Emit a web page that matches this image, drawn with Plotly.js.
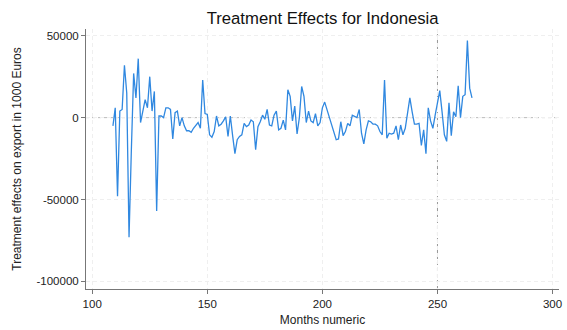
<!DOCTYPE html>
<html>
<head>
<meta charset="utf-8">
<script src="https://cdn.plot.ly/plotly-3.0.1.min.js"></script>
<style>html,body{margin:0;padding:0;background:#fff;}#chart{width:567px;height:330px;}</style>
</head>
<body>
<div id="chart"></div>
<script>
const startMonth = 109;
const effects = [
  -5000, 6000, -48000, 4000, 5000, 32000, 15000, -73000, -20000, 27000,
  12000, 36000, -3000, 5000, 11000, 6000, 25000, 4000, 16000, -57000,
  1000, 1000, 0, 6000, 6000, 5000, -13000, 3000, 4000, -5000,
  0, -5000, -8000, -8000, -9000, -6500, -4500, -3000, -6500, 23000,
  2500, 2000, -10500, -12000, -8500, 1000, -5000, -4000, -2000, 500,
  -11500, 1000, -11000, -22000, -13500, -11500, -10500, -3500, -5500, -4500,
  -1500, -2500, -19500, -5500, -2500, 1500, -1000, 5000, -4500, -5000,
  1500, 4000, -7500, -6500, -1500, -7500, 17000, 13000, -2000, 7000,
  -10000, 0, 19000, 13000, -3000, 4000, -2000, -3000, 2500, -5000,
  -3000, 6000, 9500, 5000, 0, -4500, -8000, -13500, -13000, -2500,
  -11000, -8500, -3500, -5000, 1500, 500, 0, 5000, -9500, -16000,
  -7500, -2000, -2500, -4000, -4000, -5000, -8500, -10500, 23000, -12500,
  -9500, -10000, -9500, -5000, -13500, -4500, -10500, -6500, 2500, 12000,
  3500, -4000, -4000, -3500, -17000, -7500, -22000, 6000, -2000, -6500,
  1500, 9000, 16500, 3500, -10500, -14500, 9000, -11000, 3500, 500,
  19500, 0, 13000, 14000, 47000, 18000, 12000
];
const months = effects.map((_, i) => startMonth + i);
const xTicks = [100, 150, 200, 250, 300];
const yTicks = [-100000, -50000, 0, 50000];
const refX = 250;
const refY = 0;

const font = "Liberation Sans, Arial, Helvetica, sans-serif";
const trace = {
  x: months, y: effects, type: 'scatter', mode: 'lines',
  line: {color: '#3088e0', width: 1.3},
  hoverinfo: 'skip'
};
const layout = {
  width: 567, height: 330,
  margin: {l: 86, r: 8, t: 29, b: 41},
  paper_bgcolor: '#fff', plot_bgcolor: '#fff',
  showlegend: false,
  font: {family: font, color: '#222', size: 11},
  title: {text: 'Treatment Effects for Indonesia', font: {family: font, size: 16.7, color: '#111'},
          x: 0.569, xanchor: 'center', y: 0.945, yanchor: 'middle'},
  xaxis: {
    range: [97.3, 302.8], tickvals: xTicks, ticktext: xTicks.map(String),
    showline: true, linecolor: '#777', linewidth: 1, mirror: false,
    ticks: 'outside', ticklen: 4, tickcolor: '#777',
    showgrid: true, gridcolor: '#efefef', griddash: '4px,3px', gridwidth: 1,
    zeroline: false, tickfont: {size: 11.5, color: '#222'},
    title: {text: 'Months numeric', font: {size: 12, color: '#222'}, standoff: 6}
  },
  yaxis: {
    range: [-104600, 54100], tickvals: yTicks, ticktext: yTicks.map(String),
    showline: true, linecolor: '#777', linewidth: 1, mirror: false,
    ticks: 'outside', ticklen: 4, tickcolor: '#777',
    showgrid: true, gridcolor: '#efefef', griddash: '4px,3px', gridwidth: 1,
    zeroline: false, tickfont: {size: 11.5, color: '#222'},
    title: {text: 'Treatment effects on export in 1000 Euros', font: {size: 12, color: '#222'}, standoff: 12}
  },
  shapes: [
    {type: 'line', xref: 'paper', x0: 0, x1: 1, yref: 'y', y0: refY, y1: refY,
     line: {color: '#bbb', width: 1, dash: 'dot'}, layer: 'below'},
    {type: 'line', yref: 'paper', y0: 0, y1: 1, xref: 'x', x0: refX, x1: refX,
     line: {color: '#999', width: 1, dash: 'dot'}, layer: 'below'}
  ]
};
Plotly.newPlot('chart', [trace], layout, {displayModeBar: false, staticPlot: true});
</script>
</body>
</html>
